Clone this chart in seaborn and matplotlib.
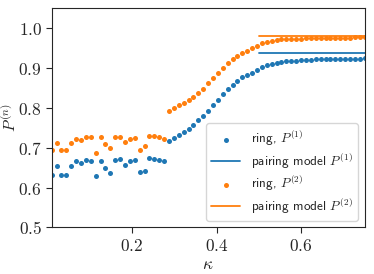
import numpy as np
import pandas as pd
import seaborn as sns
import matplotlib.pyplot as plt

# coupling values (65 samples between 0.01 and 0.75)
kappa = [0.0100, 0.0216, 0.0331, 0.0447, 0.0563, 0.0678, 0.0794, 0.0909,
         0.1025, 0.1141, 0.1256, 0.1372, 0.1488, 0.1603, 0.1719, 0.1834,
         0.1950, 0.2066, 0.2181, 0.2297, 0.2413, 0.2528, 0.2644, 0.2759,
         0.2875, 0.2991, 0.3106, 0.3222, 0.3338, 0.3453, 0.3569, 0.3684,
         0.3800, 0.3916, 0.4031, 0.4147, 0.4263, 0.4378, 0.4494, 0.4609,
         0.4725, 0.4841, 0.4956, 0.5072, 0.5188, 0.5303, 0.5419, 0.5534,
         0.5650, 0.5766, 0.5881, 0.5997, 0.6113, 0.6228, 0.6344, 0.6459,
         0.6575, 0.6691, 0.6806, 0.6922, 0.7038, 0.7153, 0.7269, 0.7384,
         0.7500]

ring_p1 = [0.6315, 0.655, 0.6315, 0.6315, 0.654, 0.6658, 0.6625, 0.669,
           0.6675, 0.628, 0.6658, 0.649, 0.6365, 0.670, 0.6708, 0.6575,
           0.6658, 0.668, 0.638, 0.6425, 0.674, 0.6725, 0.668, 0.6658,
           0.7175, 0.723, 0.7308, 0.739, 0.7475, 0.7575, 0.768, 0.780,
           0.7925, 0.8058, 0.820, 0.834, 0.8458, 0.858, 0.868, 0.876,
           0.8825, 0.888, 0.8955, 0.9025, 0.9065, 0.910, 0.9125, 0.914,
           0.9158, 0.9175, 0.918, 0.919, 0.920, 0.9205, 0.921, 0.9213,
           0.9216, 0.922, 0.9222, 0.9224, 0.9226, 0.9228, 0.923, 0.9232,
           0.9234]

ring_p2 = [0.693, 0.7115, 0.693, 0.694, 0.7115, 0.7215, 0.718, 0.7258,
           0.7258, 0.6858, 0.7258, 0.708, 0.700, 0.7265, 0.7265, 0.715,
           0.7208, 0.723, 0.694, 0.705, 0.728, 0.728, 0.727, 0.7208,
           0.793, 0.799, 0.8058, 0.8125, 0.820, 0.828, 0.838, 0.848,
           0.8615, 0.874, 0.8865, 0.899, 0.912, 0.9215, 0.930, 0.9365,
           0.943, 0.9485, 0.955, 0.9615, 0.9655, 0.968, 0.970, 0.971,
           0.9715, 0.9725, 0.9728, 0.973, 0.9735, 0.974, 0.9742, 0.9745,
           0.9748, 0.975, 0.9752, 0.9754, 0.9756, 0.9758, 0.976, 0.9762,
           0.9764]

# pairing model (constant over the strong coupling range)
model_kappa = [0.5, 0.75]
model_p1 = [0.9365, 0.9365]
model_p2 = [0.979, 0.979]

ring = pd.DataFrame({'kappa': kappa, 'p1': ring_p1, 'p2': ring_p2})
model = pd.DataFrame({'kappa': model_kappa, 'p1': model_p1, 'p2': model_p2})

sns.set_style('ticks')
plt.rcParams['mathtext.fontset'] = 'cm'
plt.rcParams['axes.formatter.use_mathtext'] = True

blue = '#1f77b4'
orange = '#ff7f0e'

fig = plt.figure(figsize=(3.74, 2.74), dpi=100)
ax = fig.add_axes([0.138, 0.170, 0.837, 0.801])

sns.scatterplot(data=ring, x='kappa', y='p1', ax=ax, color=blue, s=13,
                linewidth=0, label=r'ring, $P^{(1)}$')
sns.lineplot(data=model, x='kappa', y='p1', ax=ax, color=blue, linewidth=1.3,
             label=r'pairing model $P^{(1)}$')
sns.scatterplot(data=ring, x='kappa', y='p2', ax=ax, color=orange, s=13,
                linewidth=0, label=r'ring, $P^{(2)}$')
sns.lineplot(data=model, x='kappa', y='p2', ax=ax, color=orange, linewidth=1.3,
             label=r'pairing model $P^{(2)}$')

ax.set_xlim(0.01, 0.75)
ax.set_ylim(0.5, 1.05)
ax.set_xticks([0.2, 0.4, 0.6])
ax.set_yticks([0.5, 0.6, 0.7, 0.8, 0.9, 1.0])
ax.set_xticklabels([r'$0.2$', r'$0.4$', r'$0.6$'])
ax.set_yticklabels([r'$0.5$', r'$0.6$', r'$0.7$', r'$0.8$', r'$0.9$', r'$1.0$'])
ax.tick_params(labelsize=12.5, length=4, width=0.8, pad=3)
ax.set_xlabel(r'$\kappa$', fontsize=12.5, labelpad=0)
ax.set_ylabel(r'$P^{(n)}$', fontsize=11.5)
ax.yaxis.set_label_coords(-0.104, 0.5)

leg = ax.legend(loc='lower right', fontsize=9.5, markerscale=1.0,
                handlelength=2.2, borderpad=0.4, labelspacing=0.2,
                handletextpad=0.8)
for t in leg.get_texts():
    t.set_family('cmss10')

fig.savefig('out.png', dpi=100)
